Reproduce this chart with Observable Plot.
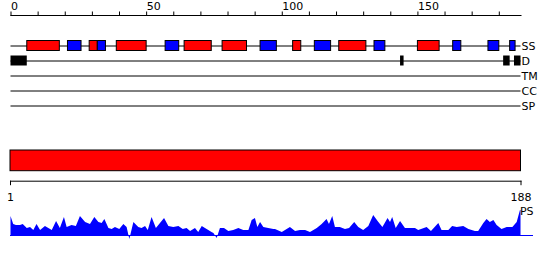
<!DOCTYPE html>
<html><head><meta charset="utf-8">
<script src="https://cdn.jsdelivr.net/npm/d3@7"></script>
<script src="https://cdn.jsdelivr.net/npm/@observablehq/plot@0.6"></script>
<style>
body{margin:0;background:#fff;}
#chart{position:relative;width:550px;height:260px;overflow:hidden;font-family:"DejaVu Sans";}
#chart svg{position:absolute;left:0;overflow:visible;}
</style></head><body><div id="chart"></div>
<script>
// ---- data ----
const seqStart = 1, seqEnd = 188;
const tracks = ["SS", "D", "TM", "CC", "SP"];
const topTicks = [0, 10, 20, 30, 40, 50, 60, 70, 80, 90, 100, 110, 120, 130, 140, 150, 160, 170, 180];
const topLabels = [0, 50, 100, 150];
const endLabels = [1, 188];
// secondary structure: helix (red) and strand (blue) segments
const helixStart = [6, 29, 39, 64, 78, 104, 121, 150];
const helixEnd   = [18, 32, 50, 74, 87, 107, 131, 158];
const strandStart = [21, 32, 57, 92, 112, 134, 163, 176, 184];
const strandEnd   = [26, 35, 62, 98, 118, 138, 166, 180, 186];
// disorder segments
const disStart = [0, 143.6, 181.6, 185.6];
const disEnd   = [6, 144.9, 184, 188];
// PS profile
const psPos = [0,1,2,3.5,4.5,6,7.2,8.4,9.6,10.9,12.7,15.2,16.8,18.2,19.7,20.7,22.5,24.1,25.6,27.5,29.3,30.9,32.4,33.6,34.6,36.1,37.3,38.5,40.1,41.6,42.8,43.8,45.3,47.1,48.3,49.6,50.6,52,53.6,55.1,56.6,58.2,60,61.9,63.5,64.9,66.2,68,69.2,70.5,72.3,74.1,74.8,76,77.2,78.7,80.3,82.1,84,85.8,87.7,88.9,90.1,91,92,93.2,95,96.9,
  97.5,100,103,104.9,106.7,108.6,110.4,112.9,114.7,116.5,117.4,118.6,119.6,121.4,123.3,124.8,126.7,128.2,130,131.9,133.7,135.6,137.1,139,139.9,140.7,142,143.6,145.4,147.3,149.1,150.3,153.4,155,157.7,158.9,161.4,162.8,164.5,166.9,168.8,171.2,172.4,174.3,175.5,176.7,178,179.2,181,182.9,185,186.6,187.8,188];
const psVal = [19,11,10,10,11,7,8,5,11,5,9,5,14,7,18,8,10,9,19,13,11,18,13,12,16,7,6,8,6,11,8,-4,13,8,7,9,5,18,7,12,17,9,8,9,6,7,4,7,3,9,6,3,2,-3,7,7,4,5,7,5,5,15,17,8,13,8,7,6,
  6,3,8,4,5,5,3,7,11,16,11,19,8,8,6,7,13,8,5,9,20,13,8,17,13,18,7,14,7,7,7,5,8,4,12,5,5,9,8,9,6,4,4,12,16,13,15,10,6,8,8,13,25,25];

// ---- build ----
const red = "#ff0000", blue = "#0000ff";
const font = {fontFamily: "DejaVu Sans", fontSize: "11px", background: "transparent", overflow: "visible"};
const chart = document.getElementById("chart");
function place(svg, top) { svg.style.top = top + "px"; chart.appendChild(svg); }

const helix = helixStart.map((s, i) => ({start: s, end: helixEnd[i], track: "SS"}));
const strand = strandStart.map((s, i) => ({start: s, end: strandEnd[i], track: "SS"}));
const dis = disStart.map((s, i) => ({start: s, end: disEnd[i], track: "D"}));

// tracks + top axis
place(Plot.plot({
  width: 550, height: 120,
  marginLeft: 10.5, marginRight: 29.5, marginTop: 15, marginBottom: 0,
  style: font,
  x: {domain: [0, 188]},
  y: {type: "band", domain: tracks, range: [37.5, 112.5], padding: 0, axis: null},
  marks: [
    Plot.frame({anchor: "top"}),
    Plot.axisX({anchor: "top", ticks: topTicks, tickSize: 4.5, tickPadding: 1, textAnchor: "start",
      tickFormat: d => topLabels.includes(d) ? String(d) : ""}),
    Plot.ruleY(tracks, {y: d => d, stroke: "black"}),
    Plot.barX(helix, {x1: "start", x2: "end", y: "track", fill: red, stroke: "black", insetTop: 2.5, insetBottom: 2.5}),
    Plot.barX(strand, {x1: "start", x2: "end", y: "track", fill: blue, stroke: "black", insetTop: 2.5, insetBottom: 2.5}),
    Plot.barX(dis, {x1: "start", x2: "end", y: "track", fill: "black", insetTop: 2.5, insetBottom: 2.5}),
    Plot.text(tracks, {y: d => d, text: d => d, frameAnchor: "right", textAnchor: "start", dx: 0.5, fill: "black"})
  ]
}), 0);

// full-length bar + bottom axis
place(Plot.plot({
  width: 550, height: 60,
  marginLeft: 10, marginRight: 29.5, marginTop: 0, marginBottom: 29.3,
  style: font,
  x: {domain: [seqStart, seqEnd]},
  marks: [
    Plot.barX([{start: seqStart, end: seqEnd}], {x1: "start", x2: "end", fill: red, stroke: "black", insetBottom: 10}),
    Plot.frame({anchor: "bottom"}),
    Plot.axisX({anchor: "bottom", ticks: endLabels, tickSize: 4.5, tickPadding: 7.5, tickFormat: d => String(d)})
  ]
}), 150);

// PS profile
const ps = psPos.map((p, i) => ({pos: p, val: psVal[i]}));
place(Plot.plot({
  width: 550, height: 40,
  marginLeft: 10, marginRight: 17, marginTop: 0, marginBottom: 0,
  style: font,
  x: {domain: [0, 188], range: [10.5, 520.5], axis: null},
  y: {domain: [-10, 30], range: [40, 0], axis: null},
  marks: [
    Plot.areaY(ps, {x: "pos", y: "val", fill: blue}),
    Plot.ruleY([0], {stroke: blue}),
    Plot.text(["PS"], {text: d => d, frameAnchor: "top-right", textAnchor: "end", lineAnchor: "top", dy: 2, fill: "black"})
  ]
}), 205);
</script></body></html>
